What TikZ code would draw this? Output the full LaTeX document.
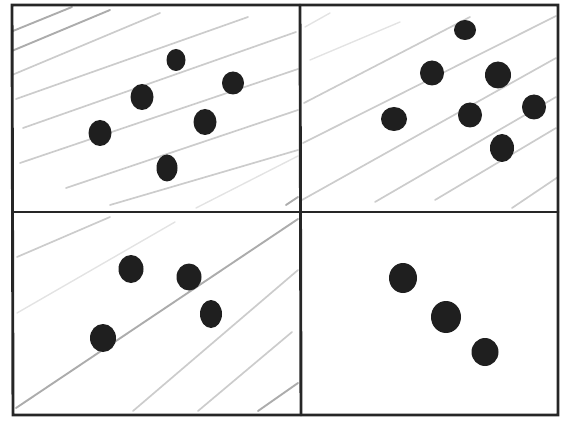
\documentclass[tikz,border=0pt]{standalone}
\usepackage{tikz}
\usetikzlibrary{calc}

\begin{document}
\begin{tikzpicture}[
    x=1pt, y=-1pt,
    frame/.style={draw=black!85, line width=2.9pt, line cap=round},
    hatch/.style={draw=gray!40, line width=1.7pt, line cap=round},
    hatchdark/.style={draw=gray!65, line width=1.9pt, line cap=round},
    hatchfaint/.style={draw=gray!22, line width=1.4pt, line cap=round},
    dot/.style={fill=black!88}
]
\useasboundingbox (0,0) rectangle (562,422);

% Grid corners
\coordinate (TL) at (12,5);
\coordinate (TM) at (300,5);
\coordinate (TR) at (558,5);
\coordinate (ML) at (13,212);
\coordinate (MM) at (300,212);
\coordinate (MR) at (558,212);
\coordinate (BL) at (13,415);
\coordinate (BM) at (301,415);
\coordinate (BR) at (558,415);

% --- Top-left cell: pencil hatching ---
\begin{scope}
    \clip (TL) rectangle (MM);
    \draw[hatchdark] (8,33) -- (72,7);
    \draw[hatchdark] (7,53) -- (110,10);
    \draw[hatch] (12,75) -- (160,13);
    \draw[hatch] (16,99) -- (248,17);
    \draw[hatch] (23,128) -- (296,32);
    \draw[hatch] (20,163) -- (298,69);
    \draw[hatch] (66,188) -- (298,110);
    \draw[hatch] (110,205) -- (298,150);
    \draw[hatchfaint] (196,208) -- (298,156);
    \draw[hatchdark] (286,205) -- (298,197);
\end{scope}

% --- Top-right cell: pencil hatching ---
\begin{scope}
    \clip (TM) rectangle (MR);
    \draw[hatchfaint] (305,27) -- (330,13);
    \draw[hatchfaint] (310,60) -- (400,22);
    \draw[hatch] (304,103) -- (470,17);
    \draw[hatch] (303,143) -- (556,16);
    \draw[hatch] (302,200) -- (556,58);
    \draw[hatch] (375,202) -- (556,97);
    \draw[hatch] (435,200) -- (556,128);
    \draw[hatch] (512,208) -- (558,177);
\end{scope}

% --- Bottom-left cell: pencil hatching ---
\begin{scope}
    \clip (ML) rectangle (BM);
    \draw[hatch] (17,257) -- (110,217);
    \draw[hatchfaint] (17,313) -- (175,222);
    \draw[hatchdark] (16,408) -- (298,219);
    \draw[hatch] (133,411) -- (298,270);
    \draw[hatch] (198,411) -- (292,332);
    \draw[hatchdark] (258,411) -- (298,383);
\end{scope}

% --- Grid frame ---
\draw[frame] (TL) -- (TR) -- (BR) -- (BL) -- cycle;
\draw[frame] (TM) -- (BM);
\draw[frame] (ML) -- (MR);

% --- Dots ---
% top-left
\foreach \px/\py/\rx/\ry in {176/60/9.5/11, 233/83/11/11.5, 142/97/11.5/13,
    100/133/11.5/13, 205/122/11.5/13, 167/168/10.5/13.5}
    \fill[dot] (\px,\py) ellipse [x radius=\rx, y radius=\ry];
% top-right
\foreach \px/\py/\rx/\ry in {465/30/11/10, 432/73/12/12.5, 498/75/13/13.5,
    394/119/13/12, 470/115/12/12.5, 534/107/12/12.5, 502/148/12/14}
    \fill[dot] (\px,\py) ellipse [x radius=\rx, y radius=\ry];
% bottom-left
\foreach \px/\py/\rx/\ry in {131/269/12.5/14, 189/277/12.5/13.5,
    211/314/11/14, 103/338/13/14}
    \fill[dot] (\px,\py) ellipse [x radius=\rx, y radius=\ry];
% bottom-right
\foreach \px/\py/\rx/\ry in {403/278/14/15, 446/317/15/16, 485/352/13.5/14}
    \fill[dot] (\px,\py) ellipse [x radius=\rx, y radius=\ry];

\end{tikzpicture}
\end{document}
